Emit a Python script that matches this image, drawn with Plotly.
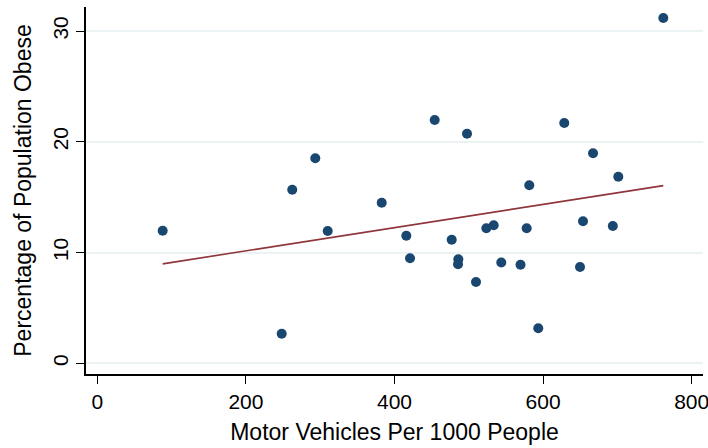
import numpy as np
import plotly.graph_objects as go

vehicles = [88.0, 248.2, 262.4, 293.4, 310.1, 382.8, 415.9, 420.9, 454.1, 477.0,
            485.9, 485.5, 497.6, 509.7, 523.6, 533.5, 543.7, 569.6, 577.9, 581.4,
            593.5, 628.5, 649.7, 653.7, 667.2, 693.8, 701.2, 761.8]
obese = [11.97, 2.67, 15.67, 18.51, 11.94, 14.50, 11.52, 9.48, 21.96, 11.16,
         9.40, 8.95, 20.73, 7.34, 12.19, 12.47, 9.10, 8.90, 12.19, 16.07,
         3.16, 21.69, 8.69, 12.82, 18.96, 12.40, 16.85, 31.17]
x_ticks = [0, 200, 400, 600, 800]
y_ticks = [0, 10, 20, 30]

slope, intercept = np.polyfit(vehicles, obese, 1)
fit_x = [min(vehicles), max(vehicles)]
fit_y = [intercept + slope * v for v in fit_x]

fig = go.Figure()
fig.add_trace(go.Scatter(x=vehicles, y=obese, mode="markers",
                         marker=dict(color="#1a476f", size=10, line=dict(width=0)),
                         showlegend=False))
fig.add_trace(go.Scatter(x=fit_x, y=fit_y, mode="lines",
                         line=dict(color="#90353b", width=1.6), showlegend=False))

font = "Liberation Sans, Arial, sans-serif"
fig.update_layout(
    width=708, height=448,
    margin=dict(l=86, r=5, t=7, b=74),
    paper_bgcolor="white", plot_bgcolor="white",
    font=dict(family=font, color="black"),
)
fig.update_xaxes(
    range=[-15.2, 815.2], tickvals=x_ticks, ticktext=[str(v) for v in x_ticks],
    showline=True, linecolor="black", linewidth=1.5, mirror=False,
    ticks="outside", ticklen=8, tickwidth=1.3, tickcolor="black",
    showgrid=False, zeroline=False, ticklabeloverflow="allow", automargin=False,
    tickfont=dict(size=21, family=font),
    title=dict(text="Motor Vehicles Per 1000 People", font=dict(size=23, family=font), standoff=12),
)
fig.update_yaxes(
    range=[-0.966, 32.17], tickvals=y_ticks, ticktext=[str(v) for v in y_ticks],
    showline=True, linecolor="black", linewidth=1.5,
    ticks="outside", ticklen=8, tickwidth=1.3, tickcolor="black",
    showgrid=True, gridcolor="#eaf2f3", gridwidth=1.5, zeroline=False,
    tickangle=-90, ticklabeloverflow="allow", automargin=False,
    tickfont=dict(size=21, family=font),
    title=dict(text="Percentage of Population Obese", font=dict(size=23, family=font), standoff=11),
)
fig.write_html("out.html")
